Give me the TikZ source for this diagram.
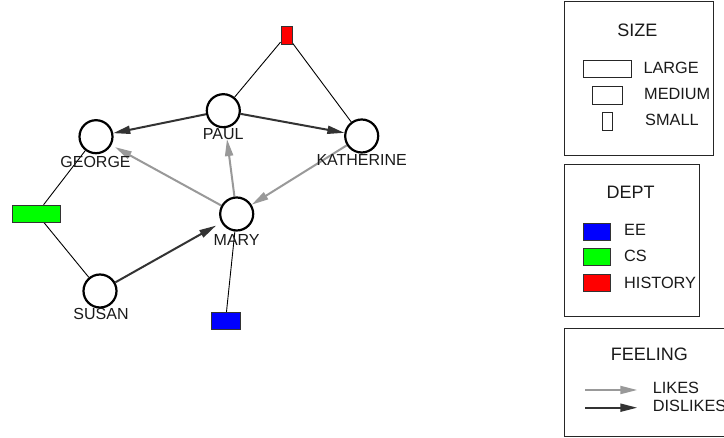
\documentclass[tikz,border=0pt]{standalone}
\usepackage{fontspec}
\setmainfont{Liberation Sans}
\usetikzlibrary{arrows.meta,backgrounds}
\definecolor{dis}{HTML}{333333}
\definecolor{lik}{HTML}{999999}
\definecolor{txt}{HTML}{1A1A1A}
\begin{document}
\begin{tikzpicture}[x=1pt,y=-1pt,
  person/.style={circle,draw=black,fill=white,line width=2.2pt,minimum size=33pt,inner sep=0pt},
  dept/.style={draw=black!80,line width=0.9pt,inner sep=0pt,minimum height=17pt},
  lbl/.style={font=\fontsize{16pt}{19pt}\selectfont,anchor=base,inner sep=0pt,text=txt},
  ttl/.style={font=\fontsize{18pt}{21pt}\selectfont,anchor=base,inner sep=0pt,text=txt},
  item/.style={font=\fontsize{16.3pt}{19pt}\selectfont,anchor=base west,inner sep=0pt,text=txt},
  link/.style={draw=black,line width=0.9pt},
  likes/.style={draw=lik,line width=2pt,-{Triangle[length=17pt,width=8pt]}},
  dislikes/.style={draw=dis,line width=2pt,-{Triangle[length=17pt,width=8pt]}},
  legbox/.style={draw=black!85,line width=1pt},
  swatch/.style={draw=black!80,line width=0.9pt,minimum width=27pt,minimum height=17pt,inner sep=0pt}
]
\useasboundingbox (0,0) rectangle (724,438);
\clip (0,0) rectangle (724,438);

% people
\node[person] (paul) at (223.3,110.7) {};
\node[person] (george) at (96,136.7) {};
\node[person] (kath) at (361.7,136) {};
\node[person] (mary) at (236.7,214) {};
\node[person] (susan) at (100,291) {};

% departments
\node[dept,fill=red,minimum width=11pt,minimum height=18pt] (hist) at (286.5,35) {};
\node[dept,fill=green,minimum width=48pt] (cs) at (36.7,213.7) {};
\node[dept,fill=blue,minimum width=29pt] (ee) at (225.5,321.3) {};

% labels
\node[lbl] (paulL) at (223.3,140) {PAUL};
\node[lbl] (georgeL) at (95.5,168) {GEORGE};
\node[lbl] (kathL) at (361.7,166) {KATHERINE};
\node[lbl] (maryL) at (236.7,246) {MARY};
\node[lbl] (susanL) at (101,320) {SUSAN};

\begin{scope}[on background layer]
  \fill[white] (0,0) rectangle (724,438);
  \draw[link] (hist) -- (paul);
  \draw[link] (hist) -- (kath);
  \draw[link] (cs) -- (george);
  \draw[link] (cs) -- (susan);
  \draw[link] (ee) -- (mary);
  \draw[dislikes] (paul) -- (george);
  \draw[dislikes] (paul) -- (kath);
  \draw[dislikes,shorten >=6pt] (susan) -- (mary);
  \draw[likes,shorten >=4pt] (mary) -- (george);
  \draw[likes,shorten >=11pt] (mary) -- (paul);
  \draw[likes] (kath) -- (mary);
\end{scope}

% legend: SIZE
\draw[legbox] (564,2) rectangle (713,156);
\node[ttl] (sizeT) at (637.3,36.7) {SIZE};
\node[draw=black!85,line width=0.9pt,minimum width=48pt,minimum height=17pt,inner sep=0pt] (large) at (607.2,68.7) {};
\node[draw=black!85,line width=0.9pt,minimum width=30pt,minimum height=18pt,inner sep=0pt] (medium) at (607.3,95) {};
\node[draw=black!85,line width=0.9pt,minimum width=10pt,minimum height=18pt,inner sep=0pt] (small) at (607.5,121.7) {};
\node[item] (largeT) at (643.3,74) {LARGE};
\node[item] (mediumT) at (644,99.5) {MEDIUM};
\node[item] (smallT) at (645,125.7) {SMALL};

% legend: DEPT
\draw[legbox] (564,165) rectangle (699,317);
\node[ttl] (deptT) at (630.7,198.3) {DEPT};
\node[swatch,fill=blue] (eeS) at (596.7,231.7) {};
\node[swatch,fill=green] (csS) at (596.7,257.3) {};
\node[swatch,fill=red] (histS) at (596.7,283.3) {};
\node[item] (eeT) at (624,236) {EE};
\node[item] (csT) at (624,261.7) {CS};
\node[item] (histT) at (624,288.3) {HISTORY};

% legend: FEELING
\draw[legbox] (564,328.5) rectangle (740,436.8);
\node[ttl] (feelT) at (649.3,360.7) {FEELING};
\coordinate (l1a) at (585,390);
\coordinate (l1b) at (637.3,390);
\coordinate (l2a) at (585,407.7);
\coordinate (l2b) at (637.3,407.7);
\draw[likes] (l1a) -- (l1b);
\draw[dislikes] (l2a) -- (l2b);
\node[item] (likesT) at (652.7,394) {LIKES};
\node[item] (dislikesT) at (652.7,411.7) {DISLIKES};
\end{tikzpicture}
\end{document}
